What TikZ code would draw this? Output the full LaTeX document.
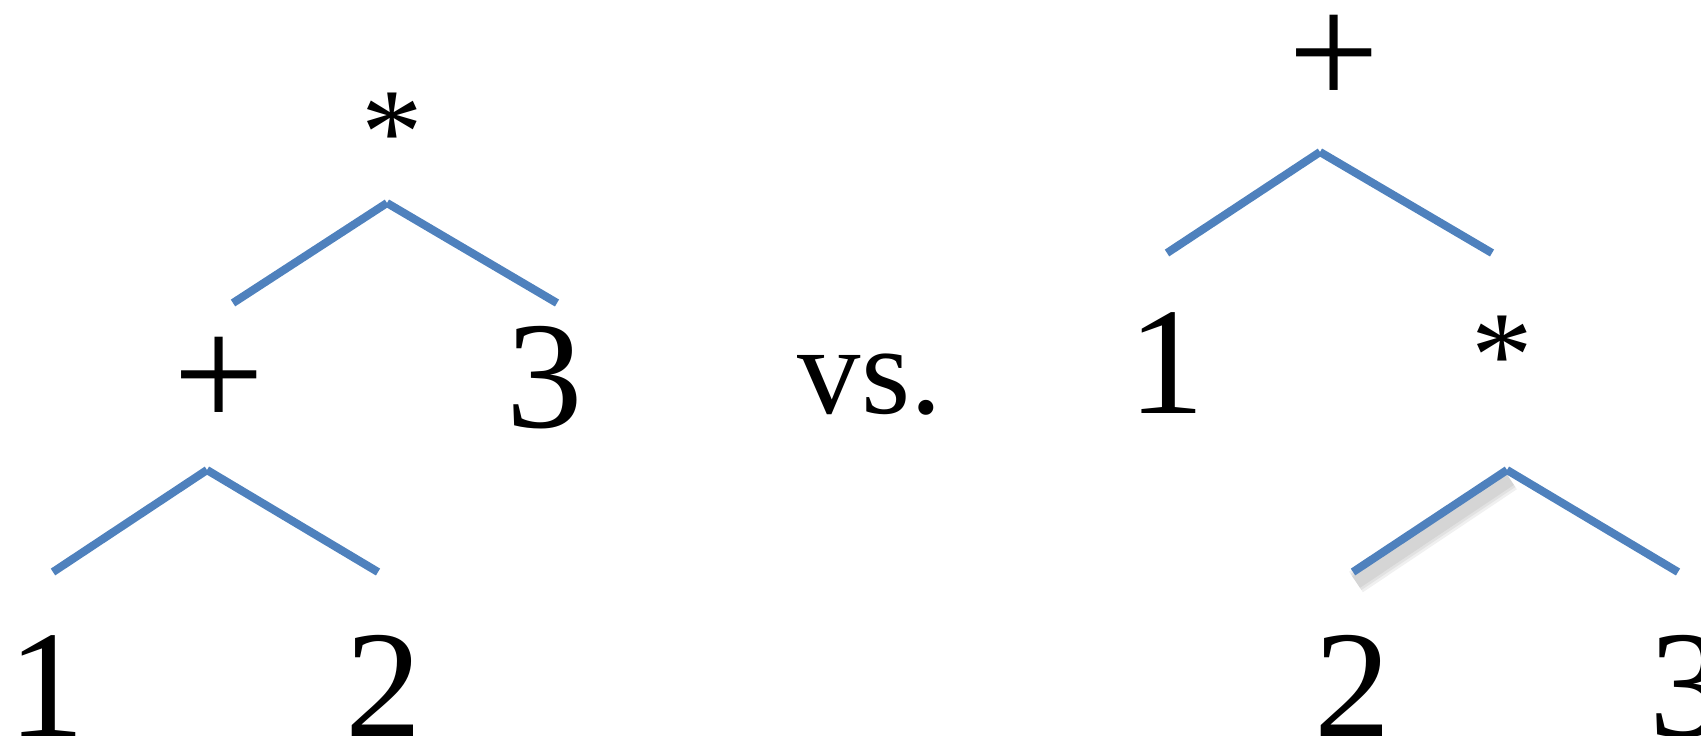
\documentclass[tikz,border=0pt]{standalone}
\usepackage{fontspec}
\setmainfont{Liberation Serif}
\usepackage{tikz}
\usetikzlibrary{positioning,calc}
\definecolor{branchBlue}{HTML}{4F81BD}

\begin{document}
\begin{tikzpicture}[x=0.02cm, y=0.02cm,
  sym/.style={inner sep=0pt, font=\fontsize{92}{98}\selectfont},
  digit/.style={inner sep=0pt, anchor=base, font=\fontsize{87}{92}\selectfont},
  star/.style={inner sep=0pt, font=\fontsize{70}{76}\selectfont},
  branch/.style={branchBlue, line width=4.6pt},
  shade/.style={black, line width=#1, opacity=0.06}]
  \useasboundingbox (0,0) rectangle (1701,-735);
  % left tree: (1+2)*3
  \node[star] (timesL) at (392,-133) {*};
  \coordinate (apexL1) at (387,-203);
  \coordinate (endL1) at (233,-303);
  \coordinate (endL2) at (557,-303);
  \node[sym] (plusL) at (219,-383) {+};
  \node[digit] (threeL) at (545,-427) {3};
  \coordinate (apexL2) at (207,-470);
  \coordinate (endL3) at (53,-572);
  \coordinate (endL4) at (378,-572);
  \node[digit] (oneL) at (47,-736) {1};
  \node[digit] (twoL) at (384,-736) {2};
  \foreach \e in {endL1,endL2} {\draw[branch] (apexL1) -- (\e);}
  \foreach \e in {endL3,endL4} {\draw[branch] (apexL2) -- (\e);}
  % middle
  \node[digit, font=\fontsize{72}{78}\selectfont] (versus) at (870,-413) {vs.};
  % right tree: 1+(2*3)
  \node[sym] (plusR) at (1334,-61) {+};
  \coordinate (apexR1) at (1320,-152);
  \coordinate (endR1) at (1167,-253);
  \coordinate (endR2) at (1492,-253);
  \node[digit] (oneR) at (1167,-413) {1};
  \node[star] (timesR) at (1502,-356) {*};
  \coordinate (apexR2) at (1507,-470);
  \coordinate (endR3) at (1353,-572);
  \coordinate (endR4) at (1678,-572);
  \node[digit] (twoR) at (1353,-736) {2};
  \node[digit] (threeR) at (1688,-736) {3};
  \foreach \w in {14pt,11pt,8pt} {\draw[shade=\w] ($(apexR2)+(3,-9)$) -- ($(endR3)+(3,-10)$);}
  \foreach \e in {endR1,endR2} {\draw[branch] (apexR1) -- (\e);}
  \foreach \e in {endR3,endR4} {\draw[branch] (apexR2) -- (\e);}
\end{tikzpicture}
\end{document}
